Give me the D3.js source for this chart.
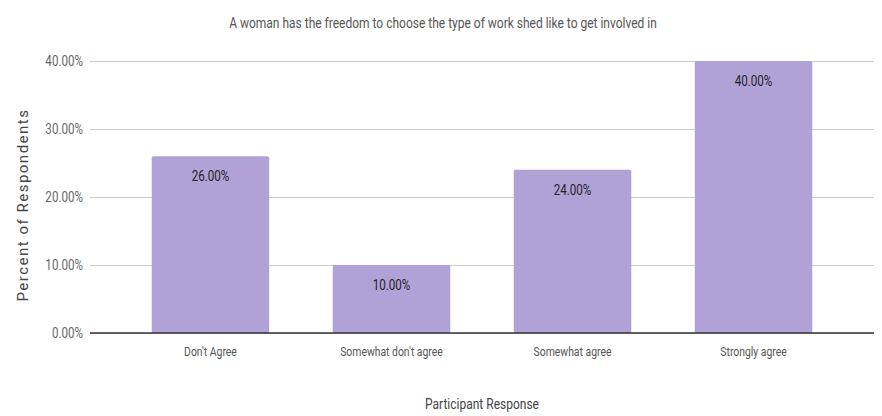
<!DOCTYPE html>
<html>
<head>
<meta charset="utf-8">
<script src="https://cdn.jsdelivr.net/npm/d3@7"></script>
<style>
  html, body { margin: 0; padding: 0; background: #fff; }
  svg { display: block; }
  text { font-family: Roboto, "Noto Sans", sans-serif; }
</style>
</head>
<body>
<svg id="chart" width="882" height="416"></svg>
<script>
// Survey responses: share of respondents per answer
const categories = ["Don't Agree", "Somewhat don't agree", "Somewhat agree", "Strongly agree"];
const percents = [26, 10, 24, 40];
const yTicks = [0, 10, 20, 30, 40];

const chartTitle = "A woman has the freedom to choose the type of work shed like to get involved in";
const xTitle = "Participant Response";
const yTitle = "Percent of Respondents";

const W = 882, H = 416;
const plot = { left: 90, right: 874, top: 61, bottom: 333 };
const condense = 0.8; // narrow glyphs for the condensed look

const svg = d3.select("#chart");

const x = d3.scaleBand()
  .domain(categories)
  .range([plot.left, plot.right])
  .paddingInner(0.351)
  .paddingOuter(0.341);

const y = d3.scaleLinear()
  .domain([0, 40])
  .range([plot.bottom, plot.top]);

const fmt = v => v.toFixed(2) + "%";

// condensed text helper: scale horizontally around an anchor point
function condensedText(g, px, py, str, opts) {
  return g.append("text")
    .attr("transform", `translate(${px},${py}) scale(${opts.sx || condense},1)`)
    .attr("text-anchor", opts.anchor || "middle")
    .attr("dominant-baseline", "central")
    .attr("font-size", opts.size)
    .attr("fill", opts.fill)
    .text(str);
}

// gridlines
const yAxis = d3.axisLeft(y).tickValues(yTicks).tickSize(-(plot.right - plot.left)).tickFormat("");
const gy = svg.append("g").attr("transform", `translate(${plot.left},0)`).call(yAxis);
gy.select(".domain").remove();
gy.selectAll(".tick line").attr("stroke", "#cccccc").attr("stroke-width", 1);

// y tick labels
const tickG = svg.append("g");
yTicks.forEach(v => {
  condensedText(tickG, 83, y(v), fmt(v), { anchor: "end", size: 14.5, fill: "#666" });
});

// bars
svg.append("g").selectAll("rect")
  .data(categories)
  .join("rect")
  .attr("x", d => x(d))
  .attr("width", x.bandwidth())
  .attr("y", (d, i) => y(percents[i]))
  .attr("height", (d, i) => y(0) - y(percents[i]))
  .attr("rx", 1.5)
  .attr("fill", "#b0a2d7");

// baseline
svg.append("line")
  .attr("x1", plot.left).attr("x2", plot.right)
  .attr("y1", y(0)).attr("y2", y(0))
  .attr("stroke", "#333").attr("stroke-width", 1.5);

// value labels inside bar tops
const valG = svg.append("g");
categories.forEach((c, i) => {
  condensedText(valG, x(c) + x.bandwidth() / 2, y(percents[i]) + 20, fmt(percents[i]), { size: 14.5, fill: "#222" });
});

// category labels
const catG = svg.append("g");
categories.forEach(c => {
  condensedText(catG, x(c) + x.bandwidth() / 2, 352, c, { size: 13, fill: "#555" });
});

// titles
condensedText(svg.append("g"), W / 2 + 2, 22, chartTitle, { size: 15, fill: "#555" });
condensedText(svg.append("g"), (plot.left + plot.right) / 2, 403, xTitle, { size: 15, fill: "#444" });

svg.append("text")
  .attr("transform", `translate(23,${(plot.top + plot.bottom) / 2 + 8}) rotate(-90)`)
  .attr("text-anchor", "middle")
  .attr("dominant-baseline", "central")
  .attr("font-family", "'Liberation Sans', Arial, sans-serif")
  .attr("font-size", 15)
  .attr("letter-spacing", 1.5)
  .attr("fill", "#444")
  .text(yTitle);
</script>
</body>
</html>
